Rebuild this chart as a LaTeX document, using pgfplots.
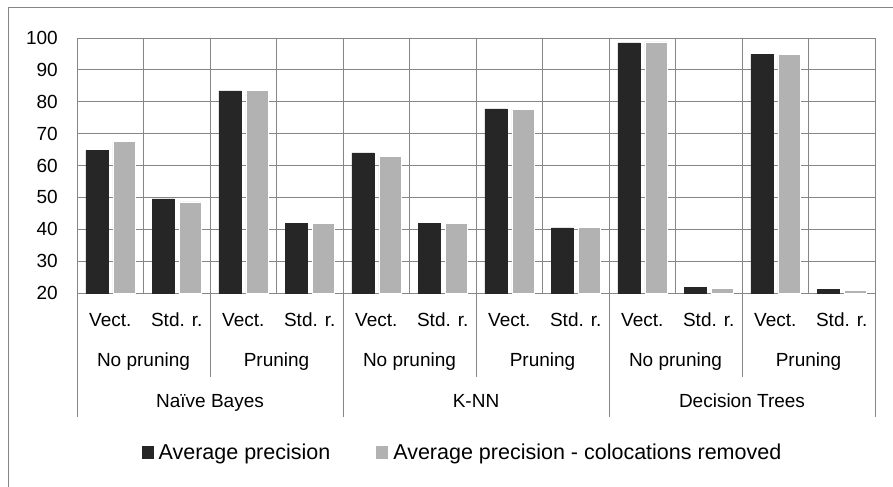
\documentclass[border=0pt]{standalone}
\usepackage{pgfplots}
\pgfplotsset{compat=1.18}
\usepackage{fontspec}
\setmainfont{Liberation Sans}
\definecolor{darkbar}{HTML}{262626}
\definecolor{lightbar}{HTML}{B2B2B2}
\definecolor{gridc}{HTML}{868686}
\begin{document}
\begin{tikzpicture}
\useasboundingbox (0,0) rectangle (893bp,487bp);
\draw[gridc, line width=1bp] (8bp,0) -- (8bp,479bp) -- (893bp,479bp);
\begin{axis}[
  at={(77bp,194bp)}, anchor=south west,
  scale only axis, width=798bp, height=255bp,
  xmin=-0.5, xmax=11.5, ymin=20, ymax=100,
  ytick={20,30,...,100},
  xtick={0,...,11},
  xticklabels={Vect.,Std. r.,Vect.,Std. r.,Vect.,Std. r.,Vect.,Std. r.,Vect.,Std. r.,Vect.,Std. r.},
  minor xtick={-0.5,0.5,...,11.5},
  xminorgrids, ymajorgrids,
  grid style={gridc, line width=1bp},
  minor grid style={gridc, line width=1bp},
  axis line style={gridc, line width=1bp},
  major tick length=0pt, minor tick length=0pt,
  tick style={draw=none},
  font=\fontsize{19bp}{22bp}\selectfont,
  /pgf/number format/assume math mode=true,
  xticklabel style={anchor=center, yshift=-27bp, inner sep=0pt},
  yticklabel style={anchor=east, inner sep=0pt, xshift=-19bp},
  ybar=5bp, bar width=22bp,
  clip=false,
  legend columns=2,
  legend style={draw=none, fill=none, at={(0.4818,-0.627)}, anchor=center,
    /tikz/every even column/.append style={column sep=46bp},
    nodes={inner sep=0pt, anchor=west}, font=\fontsize{21.5bp}{24bp}\selectfont},
]
\addplot[fill=darkbar, draw=darkbar, legend image code/.code={\fill[darkbar, draw=none] (0bp,-6.5bp) rectangle (12bp,6.5bp);}] coordinates {
(0,64.7) (1,49.5) (2,83.4) (3,41.9) (4,64.0) (5,41.9) (6,77.8) (7,40.4) (8,98.5) (9,21.7) (10,94.8) (11,21.2)};
\addplot[fill=lightbar, draw=white, legend image code/.code={\fill[lightbar, draw=none] (0bp,-6.5bp) rectangle (12bp,6.5bp);}] coordinates {
(0,67.6) (1,48.6) (2,83.6) (3,41.9) (4,62.9) (5,41.8) (6,77.7) (7,40.5) (8,98.8) (9,21.5) (10,94.8) (11,20.9)};
\legend{\hspace{5bp}Average precision, \hspace{5bp}Average precision - colocations removed}
\pgfplotsinvokeforeach{1.5,5.5,9.5}{\draw[gridc, line width=1bp] (axis cs:#1,20) -- ([yshift=-84bp]axis cs:#1,20);}
\pgfplotsinvokeforeach{-0.5,3.5,7.5,11.5}{\draw[gridc, line width=1bp] (axis cs:#1,20) -- ([yshift=-124bp]axis cs:#1,20);}
\node[inner sep=0pt] at ([yshift=-69bp]axis cs:0.5,20) {\strut No pruning};
\node[inner sep=0pt] at ([yshift=-69bp]axis cs:2.5,20) {\strut Pruning};
\node[inner sep=0pt] at ([yshift=-69bp]axis cs:4.5,20) {\strut No pruning};
\node[inner sep=0pt] at ([yshift=-69bp]axis cs:6.5,20) {\strut Pruning};
\node[inner sep=0pt] at ([yshift=-69bp]axis cs:8.5,20) {\strut No pruning};
\node[inner sep=0pt] at ([yshift=-69bp]axis cs:10.5,20) {\strut Pruning};
\node[inner sep=0pt] at ([yshift=-110bp]axis cs:1.5,20) {\strut Naïve Bayes};
\node[inner sep=0pt] at ([yshift=-110bp]axis cs:5.5,20) {\strut K-NN};
\node[inner sep=0pt] at ([yshift=-110bp]axis cs:9.5,20) {\strut Decision Trees};
\end{axis}
\end{tikzpicture}
\end{document}
